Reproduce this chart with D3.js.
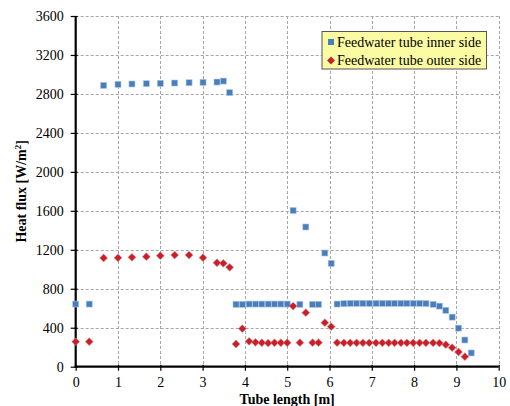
<!DOCTYPE html>
<html>
<head>
<meta charset="utf-8">
<script src="https://cdn.jsdelivr.net/npm/d3@7"></script>
<style>
  html, body { margin: 0; padding: 0; background: #fff; }
  svg { display: block; }
  text { font-family: "Liberation Serif", "Times New Roman", serif; }
</style>
</head>
<body>
<svg id="chart" width="510" height="406"></svg>
<script>
// ---- data ----
const tubeLength = [0, 0.32, 0.66, 1.0, 1.33, 1.67, 2.0, 2.34, 2.68, 3.01, 3.34, 3.49, 3.64,
  3.79, 3.94, 4.10, 4.25, 4.40, 4.55, 4.70, 4.85, 5.00, 5.14, 5.30, 5.44, 5.60, 5.74, 5.89, 6.04,
  6.18, 6.34, 6.49, 6.64, 6.79, 6.94, 7.10, 7.25, 7.40, 7.54, 7.69, 7.83, 7.98, 8.13, 8.28,
  8.45, 8.60, 8.75, 8.90, 9.05, 9.20, 9.35];
const innerSide = [643, 643, 2888, 2898, 2902, 2905, 2909, 2912, 2915, 2919, 2922, 2932, 2813,
  640, 640, 643, 643, 643, 643, 643, 643, 643, 1603, 640, 1434, 640, 640, 1167, 1061,
  643, 647, 650, 650, 650, 650, 650, 650, 650, 650, 650, 650, 650, 650, 648,
  640, 622, 579, 509, 396, 274, 141];
const outerSide = [257, 257, 1116, 1118, 1123, 1129, 1139, 1146, 1146, 1119, 1067, 1061, 1020,
  233, 390, 260, 250, 246, 243, 246, 246, 246, 622, 247, 555, 247, 247, 452, 411,
  247, 245, 245, 245, 245, 245, 245, 245, 245, 245, 245, 245, 245, 245, 245,
  245, 243, 226, 195, 151, 103, null];
const seriesNames = ["Feedwater tube inner side", "Feedwater tube outer side"];
const xTicks = [0, 1, 2, 3, 4, 5, 6, 7, 8, 9, 10];
const yTicks = [0, 400, 800, 1200, 1600, 2000, 2400, 2800, 3200, 3600];

// ---- layout ----
const svg = d3.select("#chart");
const pL = 75.7, pR = 498.7, pT = 16, pB = 366.7;
const x = d3.scaleLinear().domain([0, 10]).range([pL, pR]);
const y = d3.scaleLinear().domain([0, 3600]).range([pB, pT]);

svg.append("rect").attr("width", 510).attr("height", 406).attr("fill", "#fff");

// grid
const grid = svg.append("g").attr("stroke", "#a6a6a6").attr("stroke-width", 1)
  .attr("stroke-dasharray", "3,2");
xTicks.filter(d => d > 0).forEach(d => {
  grid.append("line").attr("x1", Math.round(x(d)) + 0.5).attr("x2", Math.round(x(d)) + 0.5)
    .attr("y1", pT).attr("y2", pB);
});
yTicks.filter(d => d > 0).forEach(d => {
  grid.append("line").attr("y1", Math.round(y(d)) + 0.5).attr("y2", Math.round(y(d)) + 0.5)
    .attr("x1", pL).attr("x2", pR);
});

// axes
const xAxis = d3.axisBottom(x).tickValues(xTicks).tickSize(4).tickPadding(6).tickFormat(d3.format("d"));
const yAxis = d3.axisLeft(y).tickValues(yTicks).tickSize(5).tickPadding(7).tickFormat(d3.format("d"));

const gx = svg.append("g").attr("transform", `translate(0,${pB})`).call(xAxis);
const gy = svg.append("g").attr("transform", `translate(${pL},0)`).call(yAxis);
[gx, gy].forEach(g => {
  g.attr("font-family", "Liberation Serif").attr("font-size", 14);
  g.select(".domain").remove();
  g.selectAll(".tick line").attr("stroke", "#000").attr("stroke-width", 1.2);
  g.selectAll(".tick text").attr("fill", "#000").style("font-size", "14px")
    .style("font-family", "'Liberation Serif', serif");
});
gy.selectAll(".tick line").attr("x2", -5).attr("x1", 2);
gx.selectAll(".tick line").attr("y1", -2).attr("y2", 4);

// axis lines
svg.append("line").attr("x1", pL).attr("x2", pL).attr("y1", pT).attr("y2", pB + 1)
  .attr("stroke", "#000").attr("stroke-width", 2.2);
svg.append("line").attr("x1", pL - 1).attr("x2", pR).attr("y1", pB).attr("y2", pB)
  .attr("stroke", "#000").attr("stroke-width", 2.2);

// axis titles
svg.append("text").attr("x", (pL + pR) / 2).attr("y", 404)
  .attr("text-anchor", "middle").style("font-size", "14px").style("font-weight", "bold")
  .text("Tube length [m]");
svg.append("text").attr("transform", `translate(26,${(pT + pB) / 2}) rotate(-90)`)
  .attr("text-anchor", "middle").style("font-size", "14px").style("font-weight", "bold")
  .html("Heat flux [W/m<tspan baseline-shift='super' font-size='9px'>2</tspan>]");

// markers
const blue = "#4a7ebb", red = "#c8202a";
const diamond = "M0,-3.9L3.9,0L0,3.9L-3.9,0Z";

const innerData = tubeLength.map((t, i) => ({t, v: innerSide[i]})).filter(d => d.v != null);
const outerData = tubeLength.map((t, i) => ({t, v: outerSide[i]})).filter(d => d.v != null);

svg.append("g").selectAll("rect").data(innerData).join("rect")
  .attr("x", d => x(d.t) - 3).attr("y", d => y(d.v) - 3)
  .attr("width", 6).attr("height", 6).attr("fill", blue)
  .attr("stroke", "#a9c4e6").attr("stroke-width", 0.6);

svg.append("g").selectAll("path").data(outerData).join("path")
  .attr("transform", d => `translate(${x(d.t)},${y(d.v)})`)
  .attr("d", diamond).attr("fill", red)
  .attr("stroke", "#e08080").attr("stroke-width", 0.6);

// legend
const lg = svg.append("g");
lg.append("rect").attr("x", 322).attr("y", 31.5).attr("width", 164.5).attr("height", 37.5)
  .attr("fill", "#fbfba4").attr("stroke", "#555").attr("stroke-width", 1);
lg.append("rect").attr("x", 328).attr("y", 39).attr("width", 6).attr("height", 6).attr("fill", blue);
lg.append("path").attr("transform", "translate(331,60.5)").attr("d", diamond).attr("fill", red);
lg.append("text").attr("x", 337).attr("y", 46.5).style("font-size", "14px").text(seriesNames[0]);
lg.append("text").attr("x", 337).attr("y", 65).style("font-size", "14px").text(seriesNames[1]);
</script>
</body>
</html>
